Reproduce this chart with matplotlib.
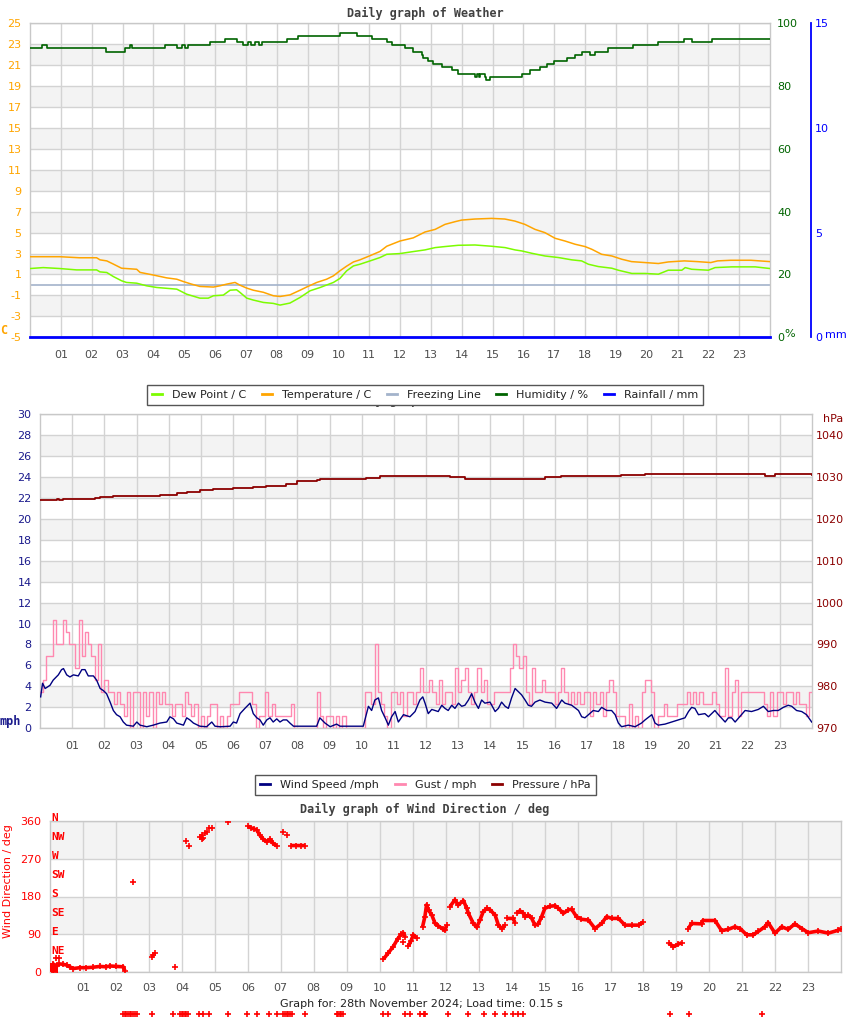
import numpy as np
import matplotlib
matplotlib.use("Agg")
import matplotlib.pyplot as plt
from matplotlib.lines import Line2D
import matplotlib.transforms as mtransforms

plt.rcParams["axes.unicode_minus"] = False

# ---------------- data ----------------
hour_ticks = list(range(1, 24))
hour_labels = [f"{h:02d}" for h in hour_ticks]

temp_h = [0.0, 0.97, 1.6, 2.16, 2.27, 2.49, 2.70, 2.97, 3.46, 3.57, 4.0, 4.43, 4.76, 4.97, 5.24, 5.51,
          5.95, 6.16, 6.38, 6.65, 6.81, 7.03, 7.24, 7.57, 7.89, 8.11, 8.43, 8.76, 8.97, 9.3, 9.62, 9.84,
          10.05, 10.27, 10.49, 10.7, 11.03, 11.35, 11.57, 12.0, 12.43, 12.81, 13.14, 13.46, 13.79, 14.0,
          14.43, 14.97, 15.4, 15.73, 16.05, 16.38, 16.7, 17.03, 17.35, 17.68, 18.0, 18.22, 18.54, 18.87,
          19.19, 19.51, 19.95, 20.38, 20.7, 21.22, 21.65, 22.08, 22.3, 22.73, 23.38, 24.0]
temp_c = [2.7, 2.7, 2.6, 2.6, 2.4, 2.3, 2.0, 1.6, 1.5, 1.2, 0.95, 0.68, 0.55, 0.33, 0.08, -0.14,
          -0.2, -0.08, 0.08, 0.24, -0.02, -0.3, -0.5, -0.7, -1.03, -1.1, -0.95, -0.5, -0.2, 0.24, 0.55, 0.87,
          1.35, 1.8, 2.2, 2.4, 2.8, 3.2, 3.7, 4.2, 4.5, 5.06, 5.31, 5.79, 6.05, 6.2,
          6.3, 6.36, 6.3, 6.1, 5.79, 5.31, 5.0, 4.46, 4.2, 3.89, 3.67, 3.41, 2.93, 2.77,
          2.46, 2.23, 2.14, 2.05, 2.2, 2.3, 2.23, 2.14, 2.3, 2.36, 2.36, 2.23]

dew_h = [0.0, 0.43, 0.97, 1.51, 2.16, 2.27, 2.49, 2.70, 2.97, 3.13, 3.46, 3.78, 4.11, 4.76, 5.08, 5.51,
         5.78, 5.95, 6.27, 6.49, 6.7, 6.81, 7.03, 7.24, 7.57, 7.89, 8.11, 8.43, 8.76, 9.08, 9.41, 9.84,
         10.05, 10.27, 10.49, 10.7, 11.03, 11.35, 11.57, 12.0, 12.43, 12.81, 13.14, 13.46, 13.89, 14.43,
         14.97, 15.41, 15.73, 15.95, 16.27, 16.7, 17.14, 17.57, 17.89, 18.11, 18.43, 18.87, 19.08, 19.52,
         19.95, 20.38, 20.7, 21.14, 21.25, 21.46, 22.0, 22.22, 22.76, 23.52, 24.0]
dew_c = [1.57, 1.66, 1.57, 1.44, 1.44, 1.25, 1.19, 0.81, 0.4, 0.24, 0.17, -0.08, -0.24, -0.4, -0.88, -1.26,
         -1.26, -1.03, -0.97, -0.5, -0.46, -0.71, -1.26, -1.44, -1.67, -1.76, -1.92, -1.73, -1.19, -0.56, -0.24, 0.24,
         0.62, 1.35, 1.82, 1.98, 2.3, 2.62, 2.93, 3.0, 3.19, 3.35, 3.57, 3.67, 3.79, 3.82,
         3.7, 3.57, 3.35, 3.25, 3.03, 2.77, 2.62, 2.4, 2.3, 1.98, 1.76, 1.6, 1.41, 1.1,
         1.1, 1.03, 1.41, 1.41, 1.66, 1.5, 1.41, 1.66, 1.73, 1.73, 1.57]

hum_h = [0.0, 0.38, 0.54, 2.46, 3.08, 3.24, 3.32, 4.38, 4.76, 4.92, 5.03, 5.14, 5.84, 6.32, 6.70, 6.92,
         7.08, 7.16, 7.30, 7.43, 7.51, 8.33, 8.70, 10.05, 10.6, 11.08, 11.57, 11.73, 12.16, 12.43, 12.7,
         12.75, 12.92, 13.08, 13.35, 13.68, 13.89, 14.43, 14.5, 14.55, 14.6, 14.76, 14.8, 14.92, 15.95,
         16.22, 16.54, 16.76, 17.01, 17.41, 17.68, 17.89, 18.16, 18.33, 18.76, 19.57, 20.38, 21.22, 21.46,
         22.13, 24.0]
hum_pct = [92, 93, 92, 91, 92, 93, 92, 93, 92, 93, 92, 93, 94, 95, 94, 93,
           94, 93, 94, 93, 94, 95, 96, 97, 96, 95, 94, 93, 92, 91, 90,
           89, 88, 87, 86, 85, 84, 83, 84, 83, 84, 83, 82, 83, 84,
           85, 86, 87, 88, 89, 90, 91, 90, 91, 92, 93, 94, 95, 94,
           95, 95]

freeze_h = [0.0, 24.0]
freeze_c = [0.0, 0.0]
rain_h = [0.0, 24.0]
rain_mm = [0.0, 0.0]

wind_h = [0.02, 0.08, 0.16, 0.31, 0.41, 0.57, 0.67, 0.73, 0.83, 0.93, 1.04, 1.19, 1.30, 1.40, 1.50, 1.66,
          1.76, 1.87, 1.97, 2.07, 2.18, 2.28, 2.38, 2.49, 2.59, 2.69, 2.90, 3.01, 3.11, 3.32, 3.52, 3.73,
          3.94, 4.04, 4.15, 4.25, 4.46, 4.56, 4.66, 4.77, 4.97, 5.18, 5.34, 5.44, 5.60, 5.91, 6.01, 6.11,
          6.22, 6.37, 6.53, 6.63, 6.74, 6.84, 6.94, 7.05, 7.15, 7.25, 7.36, 7.46, 7.56, 7.67, 7.77, 7.88,
          8.60, 8.70, 8.86, 9.02, 9.22, 9.33, 10.05, 10.21, 10.31, 10.41, 10.52, 10.62, 10.73, 10.83, 10.93,
          11.04, 11.14, 11.30, 11.50, 11.66, 11.81, 11.90, 11.97, 12.07, 12.18, 12.38, 12.49, 12.59, 12.69,
          12.80, 12.90, 13.01, 13.11, 13.21, 13.32, 13.42, 13.52, 13.63, 13.73, 13.83, 13.99, 14.15, 14.25,
          14.35, 14.46, 14.56, 14.66, 14.77, 14.87, 14.97, 15.08, 15.18, 15.28, 15.39, 15.54, 15.70, 15.91,
          16.06, 16.22, 16.32, 16.53, 16.74, 16.84, 16.94, 17.05, 17.20, 17.36, 17.46, 17.62, 17.77, 17.88,
          17.98, 18.08, 18.29, 18.50, 18.70, 18.81, 19.02, 19.12, 19.22, 19.43, 19.64, 19.84, 20.05, 20.16,
          20.26, 20.36, 20.47, 20.67, 20.78, 20.88, 20.98, 21.09, 21.30, 21.40, 21.50, 21.61, 21.81, 21.92,
          22.12, 22.33, 22.49, 22.64, 22.80, 22.95, 23.11, 23.26, 23.37, 23.52, 23.68, 23.83, 23.99]
wind_mph = [3.0, 4.3, 3.8, 4.1, 4.6, 5.1, 5.6, 5.7, 5.1, 4.9, 5.1, 5.0, 5.6, 5.6, 5.0, 5.0,
            4.6, 3.8, 3.6, 3.3, 2.5, 1.7, 1.3, 1.1, 0.6, 0.3, 0.2, 0.6, 0.3, 0.15, 0.3, 0.5,
            0.6, 1.1, 0.9, 0.5, 0.3, 1.0, 0.8, 0.5, 0.2, 0.15, 0.6, 0.2, 0.15, 0.2, 0.6, 0.5,
            1.4, 1.9, 2.4, 1.4, 1.0, 0.8, 0.3, 0.8, 1.0, 0.6, 0.9, 0.6, 0.8, 0.8, 0.5, 0.2,
            0.2, 1.0, 0.5, 0.15, 0.4, 0.2, 0.2, 2.1, 1.7, 2.7, 2.9, 1.7, 1.0, 0.3, 1.1,
            1.6, 0.6, 1.3, 1.1, 1.6, 2.7, 3.0, 2.4, 1.4, 1.8, 1.6, 2.2, 1.9, 1.7,
            2.2, 1.9, 2.4, 2.1, 2.2, 2.7, 3.3, 2.5, 1.9, 2.7, 2.4, 2.5, 1.6, 1.9,
            2.5, 2.1, 1.9, 2.9, 3.8, 3.5, 3.2, 2.7, 2.2, 2.1, 2.5, 2.7, 2.5, 2.4,
            1.9, 2.7, 2.4, 2.2, 1.7, 1.1, 1.0, 1.3, 1.7, 1.6, 2.0, 1.7, 1.7, 1.3,
            0.5, 0.15, 0.3, 0.15, 0.5, 0.8, 1.3, 0.5, 0.3, 0.4, 0.6, 0.8, 1.0, 1.6,
            2.0, 1.9, 1.3, 1.4, 1.1, 1.4, 1.7, 1.3, 0.6, 1.0, 1.0, 0.6, 1.3, 1.7,
            1.6, 1.8, 2.1, 1.6, 1.7, 1.7, 2.0, 2.2, 2.1, 1.7, 1.6, 1.3, 0.6]

# gust as sensor steps (1 step = 1.15 mph), ten readings per hour
gust_step_mph = 1.15
gust_steps = [
    [3, 4, 6, 6, 9, 7, 7, 9, 8, 7],
    [7, 5, 9, 6, 8, 7, 6, 4, 7, 3],
    [4, 3, 3, 2, 3, 2, 1, 3, 0, 3],
    [3, 0, 3, 1, 3, 0, 3, 2, 3, 2],
    [2, 1, 2, 2, 1, 3, 2, 1, 2, 0],
    [1, 0, 1, 2, 2, 0, 1, 0, 1, 2],
    [2, 2, 3, 3, 3, 3, 2, 0, 1, 1],
    [3, 1, 2, 1, 1, 1, 1, 1, 2, 0],
    [0, 0, 0, 0, 0, 0, 3, 1, 0, 1],
    [1, 0, 1, 0, 1, 0, 0, 0, 0, 0],
    [0, 3, 3, 2, 7, 3, 2, 1, 0, 3],
    [3, 2, 3, 1, 3, 3, 2, 3, 5, 3],
    [3, 4, 3, 2, 4, 2, 3, 3, 2, 5],
    [3, 4, 5, 3, 2, 3, 5, 3, 4, 2],
    [2, 3, 3, 3, 3, 3, 5, 7, 6, 5],
    [6, 3, 2, 5, 3, 3, 4, 3, 3, 3],
    [2, 3, 5, 3, 2, 3, 2, 3, 2, 3],
    [3, 1, 3, 2, 3, 1, 3, 4, 3, 1],
    [1, 1, 0, 2, 0, 1, 0, 3, 4, 4],
    [3, 0, 1, 1, 2, 1, 1, 1, 2, 2],
    [2, 3, 2, 3, 2, 3, 2, 2, 2, 3],
    [2, 1, 1, 5, 1, 3, 4, 1, 3, 3],
    [3, 3, 3, 3, 3, 2, 1, 3, 1, 3],
    [3, 2, 3, 3, 2, 3, 2, 2, 1, 3],
]

press_h = [0.0, 0.52, 0.6, 0.72, 1.3, 1.71, 1.86, 2.28, 3.73, 4.25, 4.56, 4.97, 5.39, 6.0, 6.63, 7.04,
           7.66, 7.98, 8.6, 8.7, 10.05, 10.15, 10.57, 11.96, 12.74, 13.21, 15.69, 16.21, 16.83, 18.07,
           18.8, 19.42, 20.77, 22.53, 22.84, 23.2, 23.35, 24.0]
press_hpa = [1024.4, 1024.6, 1024.4, 1024.7, 1024.8, 1025.0, 1025.1, 1025.5, 1025.7, 1026.2, 1026.5,
             1026.8, 1027.0, 1027.3, 1027.5, 1027.9, 1028.4, 1028.9, 1029.2, 1029.5, 1029.6, 1029.8,
             1030.2, 1030.2, 1029.9, 1029.6, 1029.9, 1030.2, 1030.3, 1030.5, 1030.7, 1030.6, 1030.6,
             1030.3, 1030.6, 1030.8, 1030.6, 1030.5]

# wind direction: continuous runs separated by NaN
dir_h = [0.02, 0.06, 0.1, 0.14, 0.22, 0.28, 0.4, 0.51, 0.6, 0.71, 0.91, 1.1, 1.3, 1.52, 1.7, 1.82, 2.0, 2.22, 2.27, np.nan,
         6.0, 6.1, 6.2, 6.27, 6.37, 6.47, 6.57, 6.67, 6.77, 6.87, np.nan,
         7.3, 7.45, 7.6, 7.74, np.nan,
         10.11, 10.25, 10.41, 10.55, 10.65, 10.72, 10.77, np.nan,
         10.87, 10.95, 11.02, 11.12, np.nan,
         11.3, 11.37, 11.42, 11.48, 11.58, 11.68, 11.78, 11.93, 11.98, 12.03, np.nan,
         12.13, 12.28, 12.38, 12.54, 12.64, 12.69, 12.84, 12.94, 13.04, 13.14, 13.25, 13.35, 13.5, 13.6, 13.7, 13.8, np.nan,
         13.85, 14.05, 14.1, np.nan,
         14.15, 14.25, 14.36, 14.41, 14.51, 14.61, 14.71, 14.81, 14.91, 15.01, 15.17, 15.32, 15.42, 15.57,
         15.72, 15.82, 15.97, 16.12, 16.33, 16.53, 16.73, 16.88, 17.04, 17.24, 17.44, 17.64, 17.85, 18.0, np.nan,
         18.76, 18.91, 19.06, 19.16, np.nan,
         19.36, 19.46, 19.76, 19.8, 20.17, 20.37, 20.57, 20.77, 20.93, 21.13, 21.33, 21.48, 21.68, 21.78,
         21.99, 22.19, 22.39, 22.59, 22.8, 23.0, 23.3, 23.61, 23.91, 23.98]
dir_deg = [15, 3, 20, 2, 18, 20, 19, 17, 13, 9, 11, 11, 12, 14, 13, 15, 14, 13, 4, np.nan,
           347, 343, 340, 338, 325, 316, 310, 316, 306, 300, np.nan,
           301, 301, 301, 301, np.nan,
           31, 45, 61, 80, 90, 93, 85, np.nan,
           62, 75, 89, 81, np.nan,
           108, 132, 160, 148, 136, 116, 110, 102, 100, 112, np.nan,
           156, 172, 160, 170, 152, 140, 116, 107, 124, 144, 152, 148, 136, 112, 104, 112, np.nan,
           128, 128, 118, np.nan,
           140, 146, 140, 132, 136, 128, 112, 115, 132, 152, 157, 158, 152, 140,
           148, 150, 132, 126, 124, 104, 116, 132, 128, 128, 112, 112, 112, 120, np.nan,
           70, 61, 67, 70, np.nan,
           104, 116, 115, 123, 123, 99, 102, 108, 104, 89, 89, 97, 108, 118,
           93, 108, 102, 115, 104, 94, 98, 93, 100, 104]
# isolated direction readings
dir_pt_h = [0.18, 0.28, 2.53, 3.08, 3.13, 3.18, 3.79, 4.12, 4.22, 4.55, 4.6, 4.62, 4.65, 4.7, 4.75,
            4.83, 4.9, 5.41, 7.08, 7.19, 10.72]
dir_pt_deg = [33, 33, 214, 37, 41, 45, 12, 311, 300, 322, 326, 316, 320, 330, 333,
              342, 342, 357, 334, 327, 72]
# readings drawn below the axis (out-of-range marker row)
calm_h = [2.22, 2.27, 2.32, 2.37, 2.42, 2.47, 2.52, 2.57, 2.63, 3.08, 3.74, 3.94, 3.99, 4.04, 4.09,
          4.14, 4.2, 4.53, 4.65, 4.83, 5.39, 5.98, 6.29, 6.63, 6.9, 7.08, 7.13, 7.18, 7.23, 7.28,
          7.33, 7.73, 8.69, 8.74, 8.79, 8.84, 8.89, 10.11, 10.26, 10.77, 10.92, 11.22, 11.34, 11.37,
          12.08, 12.67, 13.17, 13.5, 13.8, 14.05, 14.2, 14.36, 18.81, 19.39, 21.61]
calm_deg = [-100] * len(calm_h)

compass_deg = [360, 315, 270, 225, 180, 135, 90, 45, 0]
compass_lbl = ["N", "NW", "W", "SW", "S", "SE", "E", "NE", "N"]

# ---------------- figure ----------------
W, H = 850, 1017
fig = plt.figure(figsize=(W / 100, H / 100), dpi=100)
MONO = "DejaVu Sans Mono"
GRID = "#d3d3d3"
BAND = "#f3f3f3"
XLAB = "#4d4d4d"


def rect(l, t, r, b):
    return [l / W, 1 - b / H, (r - l) / W, (b - t) / H]


def base(ax, ylo, yhi, yticks, lcolor, pad_y, pad_x):
    ax.set_xlim(0, 24)
    ax.set_ylim(ylo, yhi)
    ax.set_yticks(yticks)
    ax.set_xticks(hour_ticks)
    ax.set_xticklabels(hour_labels)
    for i in range(len(yticks) - 1):
        if i % 2 == 1:
            ax.axhspan(yticks[i], yticks[i + 1], color=BAND, lw=0, zorder=0.1)
    ax.set_axisbelow(True)
    ax.grid(True, color=GRID, lw=1.0)
    ax.tick_params(axis="y", length=0, pad=pad_y, labelsize=8, labelcolor=lcolor)
    ax.tick_params(axis="x", length=0, pad=pad_x, labelsize=8, labelcolor=XLAB)
    for s in ax.spines.values():
        s.set_color("#c8c8c8")
        s.set_linewidth(1.0)


# ---- top chart ----
ax1 = fig.add_axes(rect(30, 23.3, 770, 337.3))
base(ax1, -5, 25, list(range(-5, 26, 2)), "#ffa500", 6, 9)
ax1.plot(freeze_h, freeze_c, color="#a3b3cb", lw=1.2, zorder=2)
ax1.plot(dew_h, dew_c, color="#7cfc00", lw=1.1, zorder=3)
ax1.plot(temp_h, temp_c, color="#ffa500", lw=1.1, zorder=3)

ax1h = ax1.twinx()
ax1h.set_ylim(0, 100)
ax1h.set_yticks([0, 20, 40, 60, 80, 100])
ax1h.tick_params(axis="y", length=0, pad=5, labelsize=8, labelcolor="#006400")
for s in ax1h.spines.values():
    s.set_visible(False)
ax1h.plot(hum_h, hum_pct, color="#006400", lw=1.2, drawstyle="steps-post")

ax1r = ax1.twinx()
ax1r.set_ylim(0, 15)
ax1r.set_yticks([0, 5, 10, 15])
ax1r.spines["right"].set_position(("axes", (810.7 - 30) / 740))
for k, s in ax1r.spines.items():
    s.set_visible(k == "right")
ax1r.spines["right"].set_color("#0000ff")
ax1r.spines["right"].set_linewidth(1.3)
ax1r.tick_params(axis="y", length=0, pad=3, labelsize=8, labelcolor="#0000ff")
ax1r.plot(rain_h, rain_mm, color="#0000ff", lw=2.0, clip_on=False)

fig.text(425 / W, 1 - 13 / H, "Daily graph of Weather", family=MONO, weight="bold",
         fontsize=8.5, color="#404040", ha="center", va="center")
fig.text(4 / W, 1 - 331 / H, "C", family=MONO, weight="bold", fontsize=8.5,
         color="#ffa500", ha="center", va="center")
fig.text(790 / W, 1 - 334 / H, "%", fontsize=8, color="#006400", ha="center", va="center")
fig.text(836 / W, 1 - 335 / H, "mm", fontsize=8, color="#0000ff", ha="center", va="center")

# title of the middle chart, covered by the legend as in the source image
fig.text(425 / W, 1 - 400 / H, "Daily graph of Weather", family=MONO, weight="bold",
         fontsize=8.5, color="#404040", ha="center", va="center", zorder=1)

leg1_handles = [Line2D([], [], color="#7cfc00", lw=2),
                Line2D([], [], color="#ffa500", lw=2),
                Line2D([], [], color="#a3b3cb", lw=2),
                Line2D([], [], color="#006400", lw=2),
                Line2D([], [], color="#0000ff", lw=2)]
leg1_labels = ["Dew Point / C", "Temperature / C", "Freezing Line", "Humidity / %", "Rainfall / mm"]
lg1 = fig.legend(leg1_handles, leg1_labels, loc="center", bbox_to_anchor=(425 / W, 1 - 395 / H),
                 ncol=5, fontsize=8, frameon=True, fancybox=False, framealpha=1,
                 edgecolor="#555555", handlelength=0.9, handletextpad=0.9, columnspacing=1.4,
                 borderpad=0.45, labelcolor="#222222")
lg1.get_frame().set_linewidth(1.0)
lg1.set_zorder(10)

# ---- middle chart ----
ax2 = fig.add_axes(rect(40, 414, 812, 728.3))
base(ax2, 0, 30, list(range(0, 31, 2)), "#1a1a8c", 6, 9)
ax2p = ax2.twinx()
ax2p.set_ylim(970, 1045)
ax2p.set_yticks(list(range(970, 1041, 10)))
ax2p.tick_params(axis="y", length=0, pad=3, labelsize=8, labelcolor="#8b0000")
for s in ax2p.spines.values():
    s.set_visible(False)

gust_h = [hh + i * 0.1 for hh in range(24) for i in range(10)] + [24.0]
gust_mph = [v * gust_step_mph for row in gust_steps for v in row] + [gust_steps[-1][-1] * gust_step_mph]
ax2.plot(gust_h, gust_mph, color="#ff88b0", lw=1.0, drawstyle="steps-post", zorder=3)
ax2.plot(wind_h, wind_mph, color="#000080", lw=1.0, zorder=4)
ax2p.plot(press_h, press_hpa, color="#8b0000", lw=1.3, drawstyle="steps-post")

fig.text(-1 / W, 1 - 722 / H, "mph", family=MONO, weight="bold", fontsize=8.5,
         color="#1a1a8c", ha="left", va="center")
fig.text(833 / W, 1 - 419 / H, "hPa", fontsize=8, color="#8b0000", ha="center", va="center")

leg2_handles = [Line2D([], [], color="#000080", lw=2),
                Line2D([], [], color="#ff88b0", lw=2),
                Line2D([], [], color="#8b0000", lw=2)]
leg2_labels = ["Wind Speed /mph", "Gust / mph", "Pressure / hPa"]
lg2 = fig.legend(leg2_handles, leg2_labels, loc="center", bbox_to_anchor=(425.5 / W, 1 - 785 / H),
                 ncol=3, fontsize=8, frameon=True, fancybox=False, framealpha=1,
                 edgecolor="#555555", handlelength=0.9, handletextpad=0.9, columnspacing=1.4,
                 borderpad=0.45, labelcolor="#222222")
lg2.get_frame().set_linewidth(1.0)

# ---- bottom chart ----
ax3 = fig.add_axes(rect(50, 820.7, 841.3, 972.3))
base(ax3, 0, 360, [0, 90, 180, 270, 360], "#ff0000", 6, 8)
for p in list(ax3.patches):
    p.remove()
ax3.axhspan(90, 180, color=BAND, lw=0, zorder=0.1)
ax3.axhspan(270, 360, color=BAND, lw=0, zorder=0.1)

ax3.plot(dir_h, dir_deg, color="#ff0000", lw=2.6, marker="+", ms=5, mew=1.2, zorder=3,
         solid_capstyle="butt")
ax3.plot(dir_pt_h, dir_pt_deg, ls="none", color="#ff0000", marker="+", ms=5, mew=1.2, zorder=3)
ax3.plot(calm_h, calm_deg, ls="none", color="#ff0000", marker="+", ms=5, mew=1.2, clip_on=False)

btr = mtransforms.blended_transform_factory(ax3.transAxes, ax3.transData)
for d, t in zip(compass_deg, compass_lbl):
    ax3.text(0.002, d + 6, t, transform=btr, family=MONO, weight="bold", fontsize=8,
             color="#ff0000", ha="left", va="center", clip_on=False, zorder=5)

fig.text(8 / W, 1 - 881 / H, "Wind Direction / deg", rotation=90, fontsize=8, color="#ff0000",
         ha="center", va="center")
fig.text(425 / W, 1 - 809 / H, "Daily graph of Wind Direction / deg", family=MONO, weight="bold",
         fontsize=8.5, color="#404040", ha="center", va="center")
fig.text(421.5 / W, 1 - 1004 / H, "Graph for: 28th November 2024; Load time: 0.15 s", fontsize=8,
         color="#222222", ha="center", va="center")

fig.savefig("out.png", dpi=100, facecolor="white")
